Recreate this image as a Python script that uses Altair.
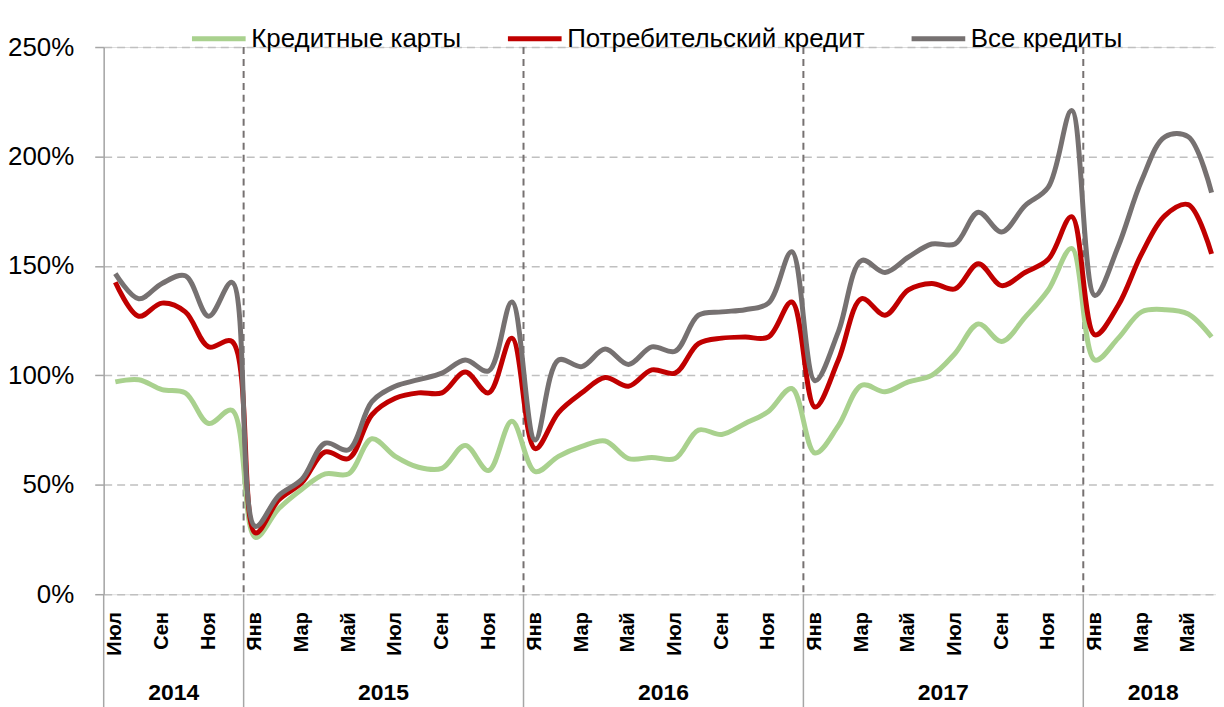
import altair as alt
import pandas as pd

# ---------------- data ----------------
month_names = ["Июл", "Авг", "Сен", "Окт", "Ноя", "Дек",
               "Янв", "Фев", "Мар", "Апр", "Май", "Июн", "Июл", "Авг", "Сен", "Окт", "Ноя", "Дек",
               "Янв", "Фев", "Мар", "Апр", "Май", "Июн", "Июл", "Авг", "Сен", "Окт", "Ноя", "Дек",
               "Янв", "Фев", "Мар", "Апр", "Май", "Июн", "Июл", "Авг", "Сен", "Окт", "Ноя", "Дек",
               "Янв", "Фев", "Мар", "Апр", "Май", "Июн"]

years = ["2014", "2015", "2016", "2017", "2018"]
year_centers = [2.5, 11.5, 23.5, 35.5, 44.5]
year_bounds = [5.5, 17.5, 29.5, 41.5]

series_names = ["Кредитные карты", "Потребительский кредит", "Все кредиты"]
series_colors = ["#a9d18e", "#c00000", "#767171"]

cards = [97, 98, 93.5, 92, 78, 84,
         26, 39, 48, 55, 55, 71, 63, 58, 57.5, 68, 56.5, 79,
         56, 63, 67.5, 70, 62, 62.5, 62, 75, 73, 78, 83.5, 94,
         64.5, 77, 95.5, 92.5, 97, 100, 110, 123.5, 115.5, 126.5, 139, 158,
         107, 117, 129, 130, 128, 117.5]

consumer = [142.5, 127, 133, 129, 113, 115.5,
            28, 43, 51, 65, 62, 82, 89.5, 92, 92, 101.5, 92, 117,
            66.5, 83, 92, 99, 95, 102.5, 101, 114.5, 117, 117.5, 117.5, 133.5,
            85.5, 107, 135, 127.5, 139, 142, 139.5, 151, 141, 147, 153, 172.5,
            118.5, 132, 155.5, 173, 178, 155.5]

all_loans = [146.5, 135, 142, 145.5, 127, 142.5,
             31, 45, 52.5, 69, 66, 88, 95, 98, 101, 107, 102, 133.5,
             70.5, 107, 104, 112, 105, 113, 111, 127.5, 129, 130, 133, 156.5,
             97.5, 120, 152.5, 147, 154, 160, 160, 174.5, 165.5, 177.5, 186, 221,
             136.5, 159, 189, 209, 209, 183.5]

y_ticks = [0, 50, 100, 150, 200, 250]

# ---------------- tables ----------------
rows = []
for name, vals in zip(series_names, [cards, consumer, all_loans]):
    for i, v in enumerate(vals):
        rows.append({"idx": i, "series": name, "value": v})
df = pd.DataFrame(rows)

labels_df = pd.DataFrame({"idx": list(range(0, len(month_names), 2)),
                          "label": month_names[0::2]})
years_df = pd.DataFrame({"pos": year_centers, "year": years})
bounds_df = pd.DataFrame({"pos": year_bounds})
sep_df = pd.DataFrame({"pos": [-0.5] + year_bounds})

W, H = 1116, 549
FONT = "Liberation Sans"
xscale = alt.Scale(domain=[-0.5, 47.19], nice=False, zero=False)

lines = alt.Chart(df).mark_line(interpolate="catmull-rom", strokeWidth=5).encode(
    x=alt.X("idx:Q", scale=xscale,
            axis=alt.Axis(title=None, labels=False, ticks=False, grid=False,
                          domain=True, domainColor="#a6a6a6", domainWidth=1.5)),
    y=alt.Y("value:Q", scale=alt.Scale(domain=[0, 250], nice=False),
            axis=alt.Axis(title=None, values=y_ticks, labelExpr="datum.value + '%'",
                          labelFontSize=26, labelFont=FONT, labelColor="#000000",
                          tickSize=9, tickColor="#a6a6a6", tickWidth=1.5,
                          labelPadding=21, domainColor="#a6a6a6", domainWidth=1.5,
                          grid=True, gridDash=[8, 5], gridColor="#c0c0c0", gridWidth=1.5)),
    color=alt.Color("series:N",
                    scale=alt.Scale(domain=series_names, range=series_colors),
                    legend=alt.Legend(title=None, orient="none", legendX=86, legendY=-38,
                                      direction="horizontal", symbolType="stroke",
                                      symbolSize=2900, symbolStrokeWidth=5,
                                      labelFontSize=26, labelFont=FONT, labelColor="#000000",
                                      labelOffset=3, columnPadding=36, labelLimit=600)),
    order=alt.Order("idx:Q"),
)

dividers = alt.Chart(bounds_df).mark_rule(color="#767171", strokeWidth=2, strokeDash=[7, 5]).encode(
    x=alt.X("pos:Q", scale=xscale, axis=None),
    y=alt.value(0), y2=alt.value(H),
)

separators = alt.Chart(sep_df).mark_rule(color="#a6a6a6", strokeWidth=1.5).encode(
    x=alt.X("pos:Q", scale=xscale, axis=None),
    y=alt.value(H), y2=alt.value(H + 115),
)

month_text = alt.Chart(labels_df).mark_text(angle=270, align="right", baseline="middle",
                                             fontWeight="bold", fontSize=20, font=FONT,
                                             color="#000000").encode(
    x=alt.X("idx:Q", scale=xscale, axis=None),
    y=alt.value(H + 18),
    text="label:N",
)

year_text = alt.Chart(years_df).mark_text(align="center", baseline="middle",
                                          fontWeight="bold", fontSize=23, font=FONT,
                                          color="#000000").encode(
    x=alt.X("pos:Q", scale=xscale, axis=None),
    y=alt.value(H + 99),
    text="year:N",
)

chart = alt.layer(dividers, separators, lines, month_text, year_text).properties(
    width=W, height=H,
    autosize=alt.AutoSizeParams(type="none"),
    padding={"left": 96, "top": 38, "right": 0, "bottom": 112},
).configure_view(stroke=None).configure(font=FONT)

chart.save("out.html", embed_options={"renderer": "svg", "actions": False})
